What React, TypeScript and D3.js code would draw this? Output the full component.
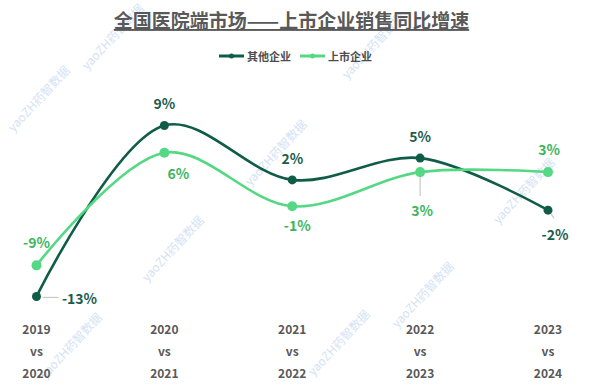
import React from "react";
import * as d3 from "d3";

// periods on the x axis: [from, to]
const periods = [
  ["2019", "2020"],
  ["2020", "2021"],
  ["2021", "2022"],
  ["2022", "2023"],
  ["2023", "2024"],
];
const seriesNames = ["其他企业", "上市企业"];
// year-on-year growth, %
const otherValues = [-13, 9, 2, 4.8, -1.9];
const listedValues = [-9, 5.5, -1.4, 3, 3];

const title = "全国医院端市场——上市企业销售同比增速";
const watermark = "yaoZH药智数据";

const W = 594;
const H = 391;
const FONT = "'Noto Sans CJK SC', 'Noto Sans', sans-serif";
const DARK = "#0f5c47";
const LIGHT = "#55d884";
const DARK_LABEL = "#1c5c4e";
const LIGHT_LABEL = "#3db560";
const GREY_TEXT = "#595959";

// label placement per point (dx, dy from the point, leader line or not)
const otherLabelPos = [
  { dx: 43, dy: 2, anchor: "middle", leader: [6, 1, 22, 1] },
  { dx: 0, dy: -22, anchor: "middle" },
  { dx: 0, dy: -22, anchor: "middle" },
  { dx: 0, dy: -22, anchor: "middle" },
  { dx: 7, dy: 24, anchor: "middle", leader: [1, 1, 6, 8] },
];
const listedLabelPos = [
  { dx: 0, dy: -23, anchor: "middle" },
  { dx: 14, dy: 20, anchor: "middle" },
  { dx: 5, dy: 19, anchor: "middle" },
  { dx: 2, dy: 38, anchor: "middle", leader: [0, 4, 0, 24] },
  { dx: 1, dy: -23, anchor: "middle" },
];

const watermarks = [
  [112, 36],
  [38, 98],
  [275, 152],
  [372, 45],
  [523, 190],
  [172, 248],
  [70, 345],
  [422, 294],
  [338, 342],
];

export default function App() {
  const x = d3
    .scalePoint<string>()
    .domain(periods.map((p) => p[0]))
    .range([36.5, 548]);
  const y = d3.scaleLinear().domain([-15, 10]).range([312, 117.7]);

  const line = d3
    .line<number>()
    .x((_, i) => x(periods[i][0]) as number)
    .y((d) => y(d))
    .curve(d3.curveCatmullRom.alpha(0.5));

  const series = [
    { name: seriesNames[0], values: otherValues, color: DARK, labelColor: DARK_LABEL, pos: otherLabelPos, r: 4.5 },
    { name: seriesNames[1], values: listedValues, color: LIGHT, labelColor: LIGHT_LABEL, pos: listedLabelPos, r: 5 },
  ];

  return (
    <svg
      width={W}
      height={H}
      style={{ position: "absolute", left: 0, top: 0, background: "#fff" }}
      fontFamily={FONT}
    >
      {/* watermarks */}
      {watermarks.map(([cx, cy], i) => (
        <text
          key={"wm" + i}
          transform={`translate(${cx},${cy}) rotate(-47)`}
          textAnchor="middle"
          dominantBaseline="central"
          fontSize={12}
          fill="#b9cff0"
          opacity={0.6}
        >
          {watermark}
        </text>
      ))}

      {/* title */}
      <text
        x={291.5}
        y={28}
        textAnchor="middle"
        fontSize={19}
        fontWeight="bold"
        fill={GREY_TEXT}
        textDecoration="underline"
      >
        {title}
      </text>

      {/* legend */}
      {series.map((s, i) => {
        const lx = 219 + i * 81;
        return (
          <g key={"lg" + i}>
            <line x1={lx} x2={lx + 25} y1={56} y2={56} stroke={s.color} strokeWidth={3} />
            <circle cx={lx + 12.5} cy={56} r={2.5} fill={s.color} />
            <text x={lx + 28} y={56} dominantBaseline="central" fontSize={11} fontWeight="bold" fill="#4d4d4d">
              {s.name}
            </text>
          </g>
        );
      })}

      {/* lines */}
      {series.map((s, i) => (
        <path key={"ln" + i} d={line(s.values) || ""} fill="none" stroke={s.color} strokeWidth={2.6} />
      ))}

      {/* leader lines */}
      {series.map((s, i) =>
        s.values.map((v, j) => {
          const p = s.pos[j];
          if (!p.leader) return null;
          const px = x(periods[j][0]) as number;
          const py = y(v);
          return (
            <line
              key={"ld" + i + j}
              x1={px + p.leader[0]}
              y1={py + p.leader[1]}
              x2={px + p.leader[2]}
              y2={py + p.leader[3]}
              stroke="#c8c8c8"
              strokeWidth={1.2}
            />
          );
        })
      )}

      {/* points */}
      {series.map((s, i) =>
        s.values.map((v, j) => (
          <circle key={"pt" + i + j} cx={x(periods[j][0]) as number} cy={y(v)} r={s.r} fill={s.color} />
        ))
      )}

      {/* value labels */}
      {series.map((s, i) =>
        s.values.map((v, j) => {
          const p = s.pos[j];
          return (
            <text
              key={"lb" + i + j}
              x={(x(periods[j][0]) as number) + p.dx}
              y={y(v) + p.dy}
              textAnchor={p.anchor as any}
              dominantBaseline="central"
              fontSize={14}
              fontWeight={600}
              fill={s.labelColor}
            >
              {`${Math.round(v)}%`}
            </text>
          );
        })
      )}

      {/* x axis labels */}
      {periods.map((p, i) => {
        const px = x(p[0]) as number;
        return (
          <g key={"ax" + i} fill={GREY_TEXT} fontSize={12} fontWeight="bold" textAnchor="middle">
            <text x={px} y={328} dominantBaseline="central">{p[0]}</text>
            <text x={px} y={350} dominantBaseline="central">vs</text>
            <text x={px} y={372} dominantBaseline="central">{p[1]}</text>
          </g>
        );
      })}
    </svg>
  );
}
